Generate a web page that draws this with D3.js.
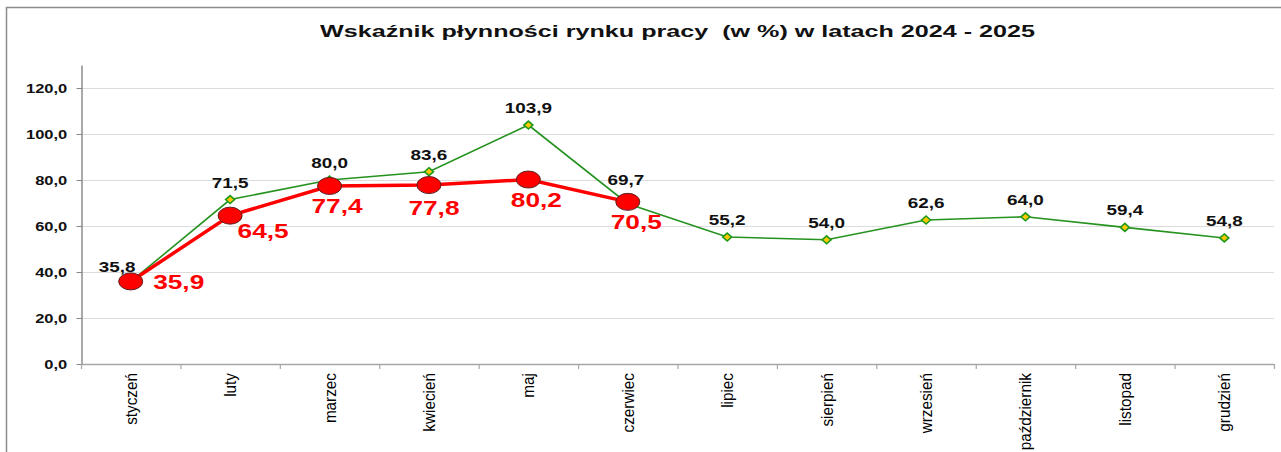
<!DOCTYPE html>
<html>
<head>
<meta charset="utf-8">
<script src="https://cdn.jsdelivr.net/npm/d3@7"></script>
<style>
  html, body { margin: 0; padding: 0; background: #ffffff; }
  svg { display: block; }
</style>
</head>
<body>
<script>
// ---- data ----
const months = ["styczeń","luty","marzec","kwiecień","maj","czerwiec","lipiec","sierpień","wrzesień","październik","listopad","grudzień"];
const values2024 = [35.8, 71.5, 80.0, 83.6, 103.9, 69.7, 55.2, 54.0, 62.6, 64.0, 59.4, 54.8];
const values2025 = [35.9, 64.5, 77.4, 77.8, 80.2, 70.5];
const yTicks = [0, 20, 40, 60, 80, 100, 120];
const title = "Wskaźnik płynności rynku pracy  (w %) w latach 2024 - 2025";

// ---- layout ----
const W = 1281, H = 452;
const plot = { left: 81, right: 1274, top: 65, bottom: 364 };
// label offsets (layout only)
const greenLabelOffset = i => i === 0 ? [-13.5, -10] : (i === 5 ? [-2, -19] : [0, -12]);
const redLabelOffset = [[48, 8], [33, 22], [7.5, 27], [5, 30], [8, 27], [8.5, 27]];

const fmt = v => v.toFixed(1).replace(".", ",");

const svg = d3.select("body").append("svg").attr("width", W).attr("height", H);
svg.append("rect").attr("width", W).attr("height", H).attr("fill", "#fff");
// frame
svg.append("rect").attr("x", 6.5).attr("y", 7.5).attr("width", W + 10).attr("height", H + 10)
  .attr("fill", "none").attr("stroke", "#8c8c8c").attr("stroke-width", 1.5);

const x = d3.scaleBand().domain(months).range([plot.left, plot.right]).padding(0);
const cx = d => x(d) + x.bandwidth() / 2;
const y = d3.scaleLinear().domain([0, 130]).range([plot.bottom, plot.top]);

// title
svg.append("text")
  .attr("xml:space", "preserve")
  .style("white-space", "pre")
  .attr("x", (plot.left + plot.right) / 2 - 357.5).attr("y", 37)
  .attr("textLength", 715).attr("lengthAdjust", "spacingAndGlyphs")
  .attr("font-family", "'Liberation Sans', Arial, sans-serif")
  .attr("font-weight", "bold").attr("font-size", 17).attr("fill", "#111")
  .text(title);

// gridlines
svg.append("g").selectAll("line").data(yTicks.filter(t => t > 0)).join("line")
  .attr("x1", plot.left).attr("x2", plot.right)
  .attr("y1", d => y(d) + 0.5).attr("y2", d => y(d) + 0.5)
  .attr("stroke", "#dcdcdc").attr("stroke-width", 1.2);

// y axis
const yAxis = svg.append("g").attr("transform", `translate(${plot.left + 0.5},0)`)
  .call(d3.axisLeft(y).tickValues(yTicks).tickFormat(fmt).tickSize(5).tickSizeOuter(0));
yAxis.select(".domain").attr("stroke", "#555").attr("stroke-width", 1);
yAxis.selectAll(".tick line").attr("stroke", "#888");
yAxis.selectAll(".tick text")
  .attr("font-family", "'Liberation Sans', Arial, sans-serif")
  .attr("font-weight", "bold").attr("font-size", 12.5).attr("fill", "#111")
  .attr("x", -10.8).attr("dy", "0.36em")
  .attr("transform", "scale(1.32,1)");

// x axis
const xg = svg.append("g");
xg.append("line").attr("x1", plot.left).attr("x2", plot.right)
  .attr("y1", plot.bottom + 0.5).attr("y2", plot.bottom + 0.5)
  .attr("stroke", "#a6a6a6").attr("stroke-width", 1.5);
const edges = months.map(m => x(m)).concat([x.range()[1]]);
xg.selectAll("line.tk").data(edges).join("line").attr("class", "tk")
  .attr("x1", d => d + 0.5).attr("x2", d => d + 0.5)
  .attr("y1", plot.bottom).attr("y2", plot.bottom + 5)
  .attr("stroke", "#a6a6a6").attr("stroke-width", 1.2);
xg.selectAll("text").data(months).join("text")
  .attr("transform", d => `translate(${cx(d)},${plot.bottom + 9}) rotate(-90) scale(0.9,1)`)
  .attr("text-anchor", "end").attr("dy", "0.35em")
  .attr("font-family", "'Liberation Sans', Arial, sans-serif")
  .attr("font-size", 17).attr("fill", "#000")
  .text(d => d);

// green series (2024)
const green = values2024.map((v, i) => ({ m: months[i], v, i }));
svg.append("path").datum(green)
  .attr("d", d3.line().x(d => cx(d.m)).y(d => y(d.v)))
  .attr("fill", "none").attr("stroke", "#25921f").attr("stroke-width", 1.6);
svg.append("g").selectAll("path").data(green).join("path")
  .attr("d", "M0,-4 L4.5,0 L0,4 L-4.5,0 Z")
  .attr("transform", d => `translate(${cx(d.m)},${y(d.v)})`)
  .attr("fill", "#ffc800").attr("stroke", "#1f9a1a").attr("stroke-width", 1.6);

// red series (2025)
const red = values2025.map((v, i) => ({ m: months[i], v, i }));
svg.append("path").datum(red)
  .attr("d", d3.line().x(d => cx(d.m)).y(d => y(d.v)))
  .attr("fill", "none").attr("stroke", "#ff0000").attr("stroke-width", 3.5);
svg.append("g").selectAll("ellipse").data(red).join("ellipse")
  .attr("cx", d => cx(d.m)).attr("cy", d => y(d.v))
  .attr("rx", 12).attr("ry", 8.5)
  .attr("fill", "#ff0000").attr("stroke", "#5a2020").attr("stroke-width", 1);

// green labels
svg.append("g").selectAll("text").data(green).join("text")
  .attr("transform", d => {
    const o = greenLabelOffset(d.i);
    return `translate(${cx(d.m) + o[0]},${y(d.v) + o[1]}) scale(1.35,1)`;
  })
  .attr("text-anchor", "middle")
  .attr("font-family", "'Liberation Sans', Arial, sans-serif")
  .attr("font-weight", "bold").attr("font-size", 14).attr("fill", "#111")
  .text(d => fmt(d.v));

// red labels
svg.append("g").selectAll("text").data(red).join("text")
  .attr("transform", d => {
    const o = redLabelOffset[d.i];
    return `translate(${cx(d.m) + o[0]},${y(d.v) + o[1]}) scale(1.25,1)`;
  })
  .attr("text-anchor", "middle")
  .attr("font-family", "'Liberation Sans', Arial, sans-serif")
  .attr("font-weight", "bold").attr("font-size", 21).attr("fill", "#ff0000")
  .text(d => fmt(d.v));
</script>
</body>
</html>
